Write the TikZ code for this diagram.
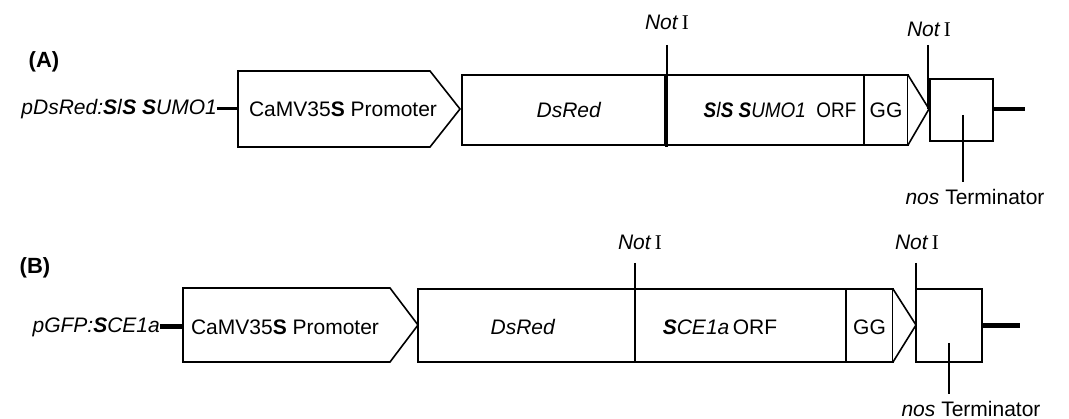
\documentclass[tikz,border=0pt]{standalone}
\usepackage{fontspec}
\usepackage{graphicx}
\setmainfont{Liberation Sans}
\newfontfamily\romanI{Liberation Serif}
\begin{document}
\begin{tikzpicture}[x=1pt,y=-1pt,
  part/.style={draw=black,line width=1.6pt,fill=white},
  txt/.style={inner sep=0pt,font=\fontsize{21}{25}\selectfont},
  site/.style={line width=1.4pt},
  lead/.style={line width=1.3pt},
  joint/.style={line width=3.5pt}]
\useasboundingbox (0,0) rectangle (1069,419);
\newcommand{\notI}{\textit{Not}\,{\romanI I}}
\newcommand{\bs}{\textbf{\textit{S}}}

% ---------- (A) ----------
\node[txt,font=\fontsize{22}{26}\selectfont\bfseries] (tagA) at (44,62) {(A)};
\node[txt,anchor=east] (labA) at (217,109) {\textit{pDsRed:}\bs\textit{l}\bs\ \bs\textit{UMO1}};
\coordinate (promAw) at (238,109);
\draw[joint,line width=3pt] (labA.east) -- (promAw);
\draw[part] (238,71) -- (430,71) -- (460,109) -- (430,147) -- (238,147) -- cycle;
\node[txt] (promA) at (343,109) {CaMV35\textbf{S} Promoter};
\draw[part] (462,75) rectangle (665,145);
\node[txt] (dsA) at (569,110) {\textit{DsRed}};
\draw[part] (665,75) rectangle (864,145);
\node[txt] (orfA) at (780,110) {\scalebox{0.9}[1]{\bs\textit{l}\bs\ \bs\textit{UMO1}\ \ ORF}};
\draw[part] (864,75) rectangle (908,145);
\node[txt] (ggA) at (886,110) {GG};
\draw[part] (908,75) -- (929,109) -- (908,145);
\draw[part] (930,79) rectangle (993,141);
\coordinate (termAe) at (993,109);
\coordinate (endA) at (1025,109);
\draw[joint,line width=4pt] (termAe) -- (endA);
% NotI sites
\node[txt] (notA1) at (667,22) {\notI};
\node[txt] (notA2) at (929,29) {\notI};
\coordinate (cutA1) at (667,147);
\coordinate (cutA2) at (928,109);
\draw[site] (667,45) -- (cutA1);
\draw[joint] (666.5,75) -- (666.5,147);
\draw[site] (928,45) -- (cutA2);
% terminator label
\node[txt] (nosA) at (975,197) {\textit{nos} Terminator};
\coordinate (termAc) at (963,115);
\draw[lead] (termAc) -- (963,182);

% ---------- (B) ----------
\node[txt,font=\fontsize{22}{26}\selectfont\bfseries] (tagB) at (35,268) {(B)};
\node[txt,anchor=east] (labB) at (160,327) {\textit{pGFP:}\bs\textit{CE1a}};
\coordinate (promBw) at (183,327);
\draw[joint,line width=5pt] (labB.east) -- (promBw);
\draw[part] (183,288) -- (390,288) -- (418,325) -- (390,362) -- (183,362) -- cycle;
\node[txt] (promB) at (285,327) {CaMV35\textbf{S} Promoter};
\draw[part] (418,289) rectangle (635,362);
\node[txt] (dsB) at (523,327) {\textit{DsRed}};
\draw[part] (635,289) rectangle (846,362);
\node[txt] (orfB) at (720,327) {\bs\textit{CE1a}\,ORF};
\draw[part] (846,289) rectangle (893,362);
\node[txt] (ggB) at (869.5,327) {GG};
\draw[part] (893,289) -- (916,325) -- (893,362);
\draw[part] (916,289) rectangle (982,362);
\coordinate (termBe) at (982,326);
\coordinate (endB) at (1020,326);
\draw[joint,line width=5pt] (termBe) -- (endB);
% NotI sites
\node[txt] (notB1) at (640,242) {\notI};
\node[txt] (notB2) at (917,242) {\notI};
\coordinate (cutB1) at (635,362);
\coordinate (cutB2) at (916,326);
\draw[site] (635,263) -- (cutB1);
\draw[line width=2.4pt] (635,289) -- (635,362);
\draw[site] (916,263) -- (cutB2);
% terminator label
\node[txt] (nosB) at (971,409) {\textit{nos} Terminator};
\coordinate (termBc) at (949,343);
\draw[lead] (termBc) -- (949,394);
\end{tikzpicture}
\end{document}
